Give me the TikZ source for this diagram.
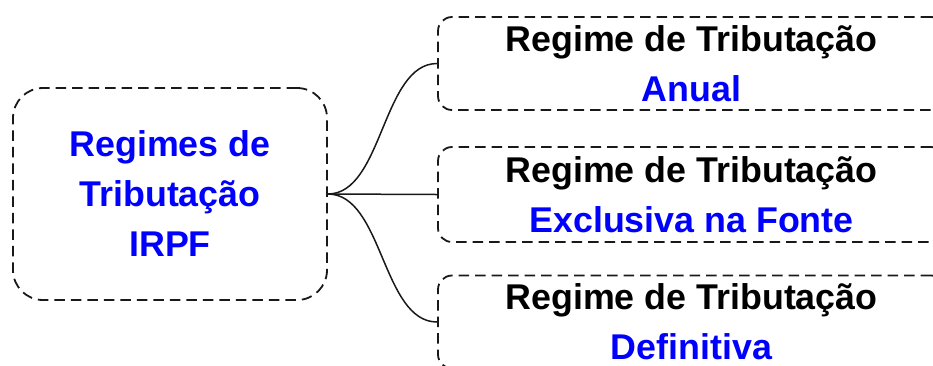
\documentclass[tikz,border=0pt]{standalone}
\usepackage{fontspec}
\setmainfont{Liberation Sans}
\definecolor{tblue}{RGB}{0,0,255}
\begin{document}
\begin{tikzpicture}[x=1pt,y=-1pt,
  dbox/.style={draw=black!90,line width=1.8pt,dash pattern=on 10.5pt off 6pt,rectangle,
    inner sep=0pt,align=center,font=\bfseries\fontsize{35.8}{50}\selectfont},
  conn/.style={draw=black!90,line width=1.5pt}]
\useasboundingbox (0,0) rectangle (933,365);
\clip (0,0) rectangle (933,365);
\node[dbox,rounded corners=30pt,minimum width=314pt,minimum height=212pt,text=tblue]
  (L) at (170,194) {Regimes de\\Tributação\\IRPF};
\node[dbox,rounded corners=14pt,minimum width=507pt,minimum height=93pt]
  (A) at (691.5,63.5) {Regime de Tributação\\\textcolor{tblue}{Anual}};
\node[dbox,rounded corners=14pt,minimum width=507pt,minimum height=95pt]
  (B) at (691.5,194.5) {Regime de Tributação\\\textcolor{tblue}{Exclusiva na Fonte}};
\node[dbox,rounded corners=14pt,minimum width=507pt,minimum height=93pt]
  (C) at (691.5,322) {Regime de Tributação\\\textcolor{tblue}{Definitiva}};
\coordinate (o) at (L.east);
\draw[conn] (o) .. controls +(55,0) and +(-55,0) .. (A.west);
\draw[conn] (o) -- (B.west);
\draw[conn] (o) .. controls +(55,0) and +(-55,0) .. (C.west);
\end{tikzpicture}
\end{document}
